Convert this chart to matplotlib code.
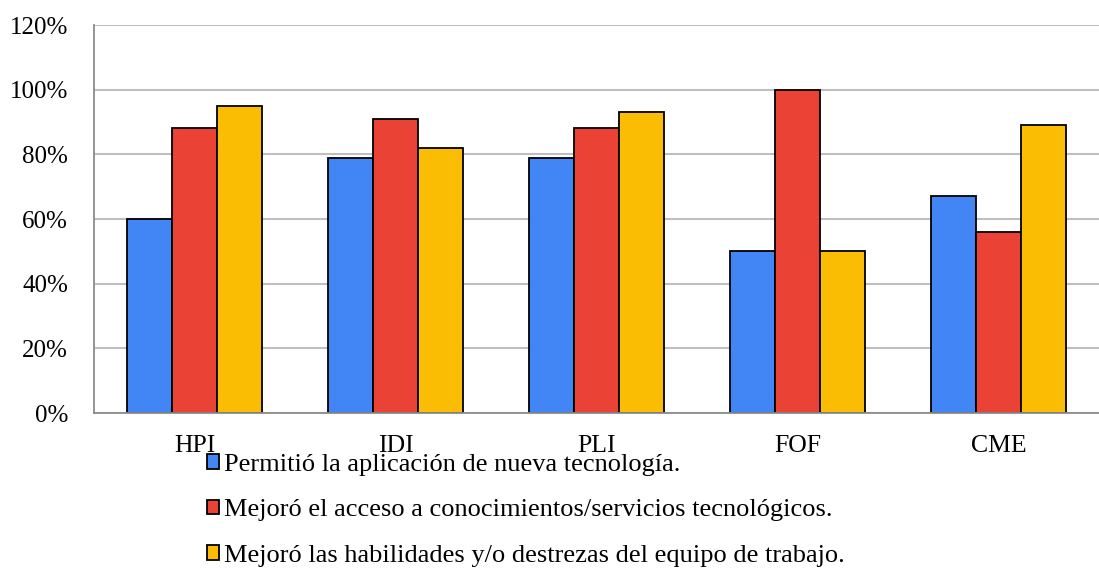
import matplotlib
matplotlib.use("Agg")
import matplotlib.pyplot as plt
import numpy as np

categories = ["HPI", "IDI", "PLI", "FOF", "CME"]
series_names = [
    "Permitió la aplicación de nueva tecnología.",
    "Mejoró el acceso a conocimientos/servicios tecnológicos.",
    "Mejoró las habilidades y/o destrezas del equipo de trabajo.",
]
aplicacion = [60, 79, 79, 50, 67]
acceso = [88, 91, 88, 100, 56]
habilidades = [95, 82, 93, 50, 89]
yticks = [0, 20, 40, 60, 80, 100, 120]
colors = ["#4285F4", "#EA4335", "#FBBC04"]

plt.rcParams["font.family"] = ["Liberation Serif", "DejaVu Serif"]

W, H = 1099, 568
fig = plt.figure(figsize=(W / 100, H / 100), dpi=100)
ax = fig.add_axes([94 / W, (H - 413) / H, (W - 94) / W, (413 - 25) / H])

x = np.arange(len(categories))
bw = 0.224
handles = []
for i, (vals, c, name) in enumerate(zip([aplicacion, acceso, habilidades], colors, series_names)):
    b = ax.bar(x + (i - 1) * bw, vals, bw, color=c, edgecolor="black", linewidth=1.3, label=name, zorder=3)
    handles.append(b)

ax.set_xlim(-0.5, len(categories) - 0.5)
ax.set_ylim(0, 120)
ax.set_yticks(yticks)
ax.set_yticklabels([f"{v}%" for v in yticks])
ax.set_xticks(x)
ax.set_xticklabels(categories)
ax.tick_params(axis="both", length=0, colors="black")
ax.tick_params(axis="y", pad=18.7, labelsize=18)
ax.tick_params(axis="x", pad=15.5, labelsize=18.5)
ax.grid(axis="y", color="#bfbfbf", linewidth=1.5, zorder=0)
for s in ["top", "right"]:
    ax.spines[s].set_visible(False)
for s in ["left", "bottom"]:
    ax.spines[s].set_color("#8c8c8c")
    ax.spines[s].set_linewidth(1.3)
    ax.spines[s].set_zorder(4)

fig.legend(handles=handles, labels=series_names, loc="upper left",
           bbox_to_anchor=(206.5 / W, (H - 454) / H), frameon=False, fontsize=19,
           handlelength=0.48, handleheight=0.48, handletextpad=0.19,
           labelspacing=0.89, borderpad=0, borderaxespad=0)

fig.savefig("out.png", dpi=100)
